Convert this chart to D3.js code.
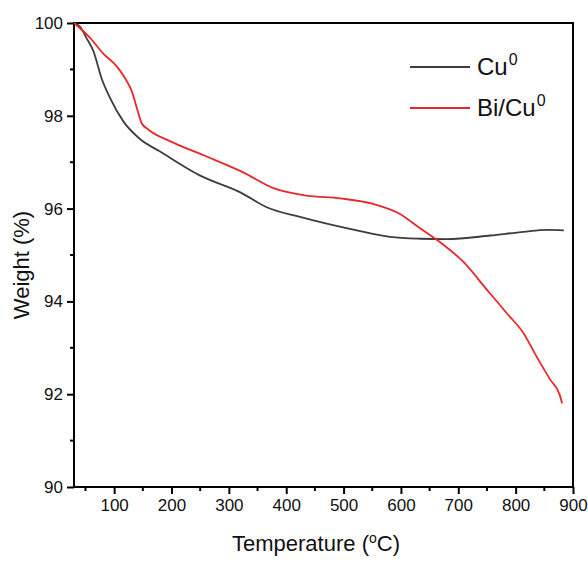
<!DOCTYPE html>
<html>
<head>
<meta charset="utf-8">
<script src="https://cdn.jsdelivr.net/npm/d3@7"></script>
<style>
  html, body { margin: 0; padding: 0; background: #fff; }
  svg { display: block; font-family: Arial, "Liberation Sans", Helvetica, sans-serif; }
</style>
</head>
<body>
<svg id="chart" width="588" height="562"></svg>
<script>
// ---- data ----
const cuTemp = [30, 40, 52, 64, 78, 93, 116, 145, 180, 250, 320, 366, 424, 523, 581, 634, 680, 756, 814, 855, 884];
const cuWeight = [100, 99.93, 99.67, 99.39, 98.81, 98.38, 97.88, 97.50, 97.23, 96.71, 96.35, 96.03, 95.82, 95.53, 95.39, 95.35, 95.34, 95.42, 95.50, 95.54, 95.53];

const biTemp = [30, 58, 81, 105, 119, 131, 139.5, 148, 160, 198, 256, 325, 378, 436, 494, 552, 599, 634, 669, 709, 750, 785, 814, 837, 860, 877, 881];
const biWeight = [100, 99.68, 99.34, 99.06, 98.81, 98.52, 98.17, 97.84, 97.70, 97.45, 97.15, 96.78, 96.44, 96.28, 96.22, 96.10, 95.88, 95.57, 95.27, 94.85, 94.25, 93.74, 93.31, 92.80, 92.32, 91.98, 91.80];

const seriesNames = ["Cu", "Bi/Cu"];
const xTicks = [100, 200, 300, 400, 500, 600, 700, 800, 900];
const xMinor = [50, 150, 250, 350, 450, 550, 650, 750, 850];
const yTicks = [90, 92, 94, 96, 98, 100];
const yMinor = [91, 93, 95, 97, 99];
const xDomain = [30, 900];
const yDomain = [90, 100];

// ---- layout ----
const svg = d3.select("#chart");
const mLeft = 74, mRight = 573, mTop = 23, mBottom = 487;
const x = d3.scaleLinear().domain(xDomain).range([mLeft, mRight]);
const y = d3.scaleLinear().domain(yDomain).range([mBottom, mTop]);

const colors = ["#3d3d3d", "#e8282b"];
const series = [
  { name: seriesNames[0], data: cuTemp.map((t, i) => [t, cuWeight[i]]), color: colors[0] },
  { name: seriesNames[1], data: biTemp.map((t, i) => [t, biWeight[i]]), color: colors[1] }
];

// frame
svg.append("rect")
  .attr("x", mLeft).attr("y", mTop)
  .attr("width", mRight - mLeft).attr("height", mBottom - mTop)
  .attr("fill", "none").attr("stroke", "#000").attr("stroke-width", 2);

// axes
const xAxis = d3.axisBottom(x).tickValues(xTicks).tickSize(7).tickPadding(5).tickFormat(d3.format("d"));
const gx = svg.append("g").attr("transform", `translate(0,${mBottom})`).call(xAxis);
gx.select(".domain").remove();
gx.selectAll(".tick line").attr("stroke", "#000").attr("stroke-width", 2);
gx.selectAll(".tick text").attr("font-size", 17).attr("fill", "#111");

gx.selectAll(".minor").data(xMinor).enter().append("line")
  .attr("class", "minor")
  .attr("x1", d => x(d)).attr("x2", d => x(d))
  .attr("y1", 0).attr("y2", 4)
  .attr("stroke", "#000").attr("stroke-width", 2);

const yAxis = d3.axisLeft(y).tickValues(yTicks).tickSize(7).tickPadding(4).tickFormat(d3.format("d"));
const gy = svg.append("g").attr("transform", `translate(${mLeft},0)`).call(yAxis);
gy.select(".domain").remove();
gy.selectAll(".tick line").attr("stroke", "#000").attr("stroke-width", 2);
gy.selectAll(".tick text").attr("font-size", 17).attr("fill", "#111");

gy.selectAll(".minor").data(yMinor).enter().append("line")
  .attr("class", "minor")
  .attr("y1", d => y(d)).attr("y2", d => y(d))
  .attr("x1", 0).attr("x2", -4)
  .attr("stroke", "#000").attr("stroke-width", 2);

// lines
const line = d3.line().x(d => x(d[0])).y(d => y(d[1])).curve(d3.curveMonotoneX);
svg.append("g").selectAll("path").data(series).enter().append("path")
  .attr("d", d => line(d.data))
  .attr("fill", "none")
  .attr("stroke", d => d.color)
  .attr("stroke-width", 1.8)
  .attr("stroke-linejoin", "round");

// axis titles
const xt = svg.append("text")
  .attr("x", 316).attr("y", 551)
  .attr("text-anchor", "middle")
  .attr("font-size", 22).attr("fill", "#111");
xt.append("tspan").text("Temperature (");
xt.append("tspan").text("o").attr("font-size", 14).attr("dy", -8);
xt.append("tspan").text("C)").attr("dy", 8);

svg.append("text")
  .attr("transform", "translate(29,265) rotate(-90)")
  .attr("text-anchor", "middle")
  .attr("font-size", 22).attr("fill", "#111")
  .text("Weight (%)");

// legend
const legendY = [67, 108];
const lg = svg.append("g");
series.forEach((s, i) => {
  lg.append("line")
    .attr("x1", 410).attr("x2", 470)
    .attr("y1", legendY[i]).attr("y2", legendY[i])
    .attr("stroke", s.color).attr("stroke-width", 1.8);
  const t = lg.append("text")
    .attr("x", 477).attr("y", legendY[i] + 8)
    .attr("font-size", 24).attr("fill", "#111");
  t.append("tspan").text(s.name);
  t.append("tspan").text("0").attr("font-size", 16).attr("dx", 1).attr("dy", -10);
});
</script>
</body>
</html>
